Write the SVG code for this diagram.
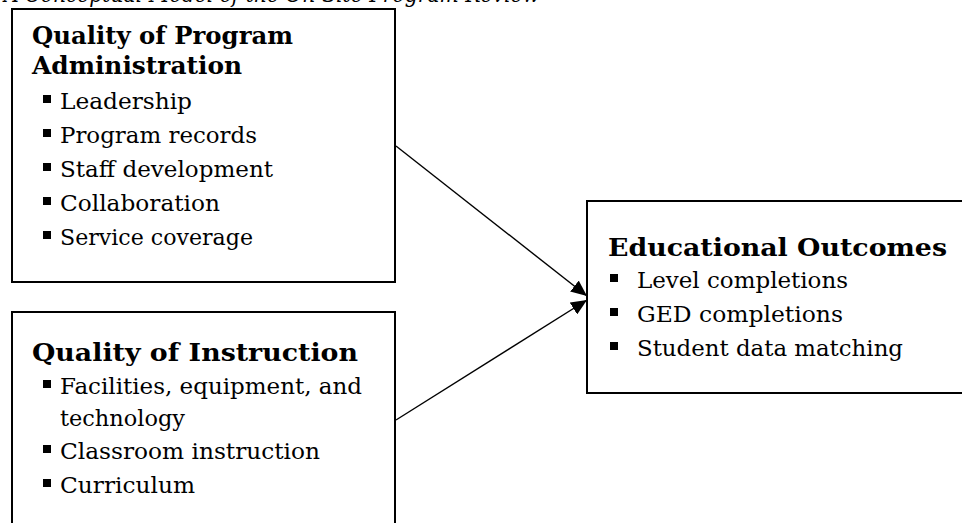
<svg xmlns="http://www.w3.org/2000/svg" width="962" height="523" viewBox="0 0 962 523">
  <style>
    .box { fill: #ffffff; stroke: #000000; stroke-width: 2; }
    .head { font-family: "DejaVu Serif", "Liberation Serif", serif; font-weight: bold; font-size: 25px; fill: #000000; }
    .item { font-family: "DejaVu Serif", "Liberation Serif", serif; font-size: 23px; fill: #000000; }
    .title { font-family: "DejaVu Serif", "Liberation Serif", serif; font-style: italic; font-size: 22px; fill: #000000; }
    .bullet { fill: #000000; }
    .link { stroke: #000000; stroke-width: 1.4; fill: none; marker-end: url(#arrow); }
  </style>
  <defs>
    <marker id="arrow" markerUnits="userSpaceOnUse" markerWidth="18" markerHeight="14" refX="16" refY="7" orient="auto">
      <path d="M0,0 L16,7 L0,14 z" fill="#000000"/>
    </marker>
  </defs>
  <rect width="962" height="523" fill="#ffffff"/>

  <!-- caption line above the model, running past the top edge of the page -->
  <text class="title" x="4" y="2" textLength="536" lengthAdjust="spacingAndGlyphs">A Conceptual Model of the On-Site Program Review</text>

  <g id="admin">
    <rect class="box" x="12" y="9" width="383" height="273"/>
    <text class="head" x="32" y="44" textLength="261" lengthAdjust="spacingAndGlyphs">Quality of Program</text>
    <text class="head" x="32" y="74" textLength="210" lengthAdjust="spacingAndGlyphs">Administration</text>
    <rect class="bullet" x="43" y="95" width="8" height="8"/>
    <text class="item" x="60" y="109" textLength="132" lengthAdjust="spacingAndGlyphs">Leadership</text>
    <rect class="bullet" x="43" y="129" width="8" height="8"/>
    <text class="item" x="60" y="143" textLength="197" lengthAdjust="spacingAndGlyphs">Program records</text>
    <rect class="bullet" x="43" y="163" width="8" height="8"/>
    <text class="item" x="60" y="177" textLength="213" lengthAdjust="spacingAndGlyphs">Staff development</text>
    <rect class="bullet" x="43" y="197" width="8" height="8"/>
    <text class="item" x="60" y="211" textLength="160" lengthAdjust="spacingAndGlyphs">Collaboration</text>
    <rect class="bullet" x="43" y="231" width="8" height="8"/>
    <text class="item" x="60" y="245" textLength="193" lengthAdjust="spacingAndGlyphs">Service coverage</text>
  </g>

  <g id="instruction">
    <rect class="box" x="12" y="312" width="383" height="240"/>
    <text class="head" x="32" y="361" textLength="326" lengthAdjust="spacingAndGlyphs">Quality of Instruction</text>
    <rect class="bullet" x="43" y="380" width="8" height="8"/>
    <text class="item" x="60" y="394" textLength="302" lengthAdjust="spacingAndGlyphs">Facilities, equipment, and</text>
    <text class="item" x="60" y="426" textLength="125" lengthAdjust="spacingAndGlyphs">technology</text>
    <rect class="bullet" x="43" y="445" width="8" height="8"/>
    <text class="item" x="60" y="459" textLength="260" lengthAdjust="spacingAndGlyphs">Classroom instruction</text>
    <rect class="bullet" x="43" y="479" width="8" height="8"/>
    <text class="item" x="60" y="493" textLength="135" lengthAdjust="spacingAndGlyphs">Curriculum</text>
  </g>

  <g id="outcomes">
    <rect class="box" x="587" y="201" width="390" height="192"/>
    <text class="head" x="608" y="256" textLength="339" lengthAdjust="spacingAndGlyphs">Educational Outcomes</text>
    <rect class="bullet" x="610" y="274" width="8" height="8"/>
    <text class="item" x="637" y="288" textLength="211" lengthAdjust="spacingAndGlyphs">Level completions</text>
    <rect class="bullet" x="610" y="308" width="8" height="8"/>
    <text class="item" x="637" y="322" textLength="206" lengthAdjust="spacingAndGlyphs">GED completions</text>
    <rect class="bullet" x="610" y="342" width="8" height="8"/>
    <text class="item" x="637" y="356" textLength="266" lengthAdjust="spacingAndGlyphs">Student data matching</text>
  </g>

  <g id="connectors">
    <line class="link" x1="396" y1="146" x2="587" y2="296"/>
    <line class="link" x1="396" y1="420" x2="587" y2="300"/>
  </g>
</svg>
